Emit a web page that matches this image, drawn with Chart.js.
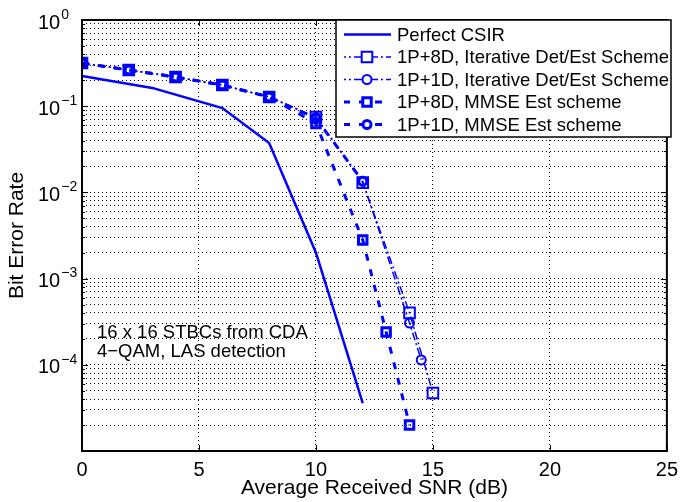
<!DOCTYPE html>
<html>
<head>
<meta charset="utf-8">
<script src="https://cdn.jsdelivr.net/npm/chart.js@4.4.1/dist/chart.umd.min.js"></script>
<style>
  html, body { margin: 0; padding: 0; background: #fff; }
</style>
</head>
<body>
<canvas id="ber-chart" width="685" height="502"></canvas>
<script>
const FONT = "'Liberation Sans', Helvetica, Arial, sans-serif";
const BLUE = '#0000ff';

// series names (legend order)
const seriesLabels = [
  'Perfect CSIR',
  '1P+8D, Iterative Det/Est Scheme',
  '1P+1D, Iterative Det/Est Scheme',
  '1P+8D, MMSE Est scheme',
  '1P+1D, MMSE Est scheme'
];

// SNR (dB) / BER values
const csirSnr = [0, 3, 6, 8, 10, 12];
const csirBer = [0.224, 0.163, 0.095, 0.0374, 0.0020, 3.6e-5];

const it8Snr = [0, 2, 4, 6, 8, 10, 12, 14, 15];
const it8Ber = [0.317, 0.263, 0.218, 0.176, 0.128, 0.075, 0.013, 4.0e-4, 4.7e-5];

const it1Snr = [0, 2, 4, 6, 8, 10, 12, 14, 14.5];
const it1Ber = [0.317, 0.263, 0.218, 0.176, 0.128, 0.074, 0.0135, 3.05e-4, 1.14e-4];

const mm8Snr = [0, 2, 4, 6, 8, 10, 12, 13, 14];
const mm8Ber = [0.317, 0.263, 0.218, 0.176, 0.128, 0.063, 0.0028, 2.4e-4, 2.0e-5];

const mm1Snr = [0, 2, 4, 6, 8, 10, 12];
const mm1Ber = [0.317, 0.263, 0.218, 0.176, 0.128, 0.072, 0.0135];

// axes
const xTicks = [0, 5, 10, 15, 20, 25];
const yExponents = [0, -1, -2, -3, -4];   // labelled decades
const yGridDecades = [-5, -4, -3, -2, -1];
const yMantissas = [1, 2, 3, 4, 5, 6, 7, 8, 9];

const noteLines = ['16 x 16 STBCs from CDA', '4\u2212QAM, LAS detection'];

function pts(xs, ys) {
  return xs.map((x, i) => ({ x: x, y: ys[i] }));
}

const yGrid = [];
yGridDecades.forEach(e => yMantissas.forEach(m => yGrid.push(m * Math.pow(10, e))));
yGrid.push(1);

// MATLAB-ish frame, inner ticks, y labels, legend and note
const figureExtras = {
  id: 'figureExtras',
  afterDraw(chart) {
    const ctx = chart.ctx;
    const a = chart.chartArea;
    const xs = chart.scales.x, ys = chart.scales.y;
    ctx.save();
    ctx.strokeStyle = '#000';
    ctx.lineWidth = 1;
    ctx.setLineDash([]);

    // inner tick marks
    ctx.beginPath();
    xTicks.forEach(v => {
      const px = Math.round(xs.getPixelForValue(v)) + 0.5;
      ctx.moveTo(px, a.bottom); ctx.lineTo(px, a.bottom - 6);
      ctx.moveTo(px, a.top); ctx.lineTo(px, a.top + 6);
    });
    yGrid.forEach(v => {
      const py = Math.round(ys.getPixelForValue(v)) + 0.5;
      const len = Math.abs(Math.log10(v) - Math.round(Math.log10(v))) < 1e-9 ? 6 : 3;
      ctx.moveTo(a.left, py); ctx.lineTo(a.left + len, py);
      ctx.moveTo(a.right, py); ctx.lineTo(a.right - len, py);
    });
    ctx.stroke();

    // box
    ctx.lineWidth = 2;
    ctx.strokeRect(a.left, a.top, a.right - a.left, a.bottom - a.top);

    // y tick labels 10^k
    ctx.fillStyle = '#000';
    ctx.textAlign = 'left';
    ctx.textBaseline = 'middle';
    yExponents.forEach(e => {
      const py = ys.getPixelForValue(Math.pow(10, e));
      ctx.font = '20px ' + FONT;
      ctx.fillText('10', 38, py + 3);
      const w = ctx.measureText('10').width;
      ctx.font = '14px ' + FONT;
      ctx.fillText(e === 0 ? '0' : '\u2212' + (-e), 38 + w + 1, py - 5);
    });

    // note text
    ctx.font = '18.5px ' + FONT;
    ctx.textBaseline = 'alphabetic';
    ctx.fillText(noteLines[0], 97, 338);
    ctx.fillText(noteLines[1], 97, 357);

    // legend
    const lx0 = 336, lx1 = 671, ly0 = 20, ly1 = 137;
    ctx.fillStyle = '#fff';
    ctx.fillRect(lx0, ly0, lx1 - lx0, ly1 - ly0);
    ctx.strokeStyle = '#000';
    ctx.lineWidth = 1.5;
    ctx.strokeRect(lx0, ly0, lx1 - lx0, ly1 - ly0);
    chart.data.datasets.forEach((ds, i) => {
      const cy = 34.5 + i * 22.5;
      ctx.strokeStyle = BLUE;
      ctx.lineWidth = ds.borderWidth;
      ctx.setLineDash(ds.borderDash || []);
      ctx.lineDashOffset = ds.legendDashOffset || 0;
      ctx.beginPath();
      ctx.moveTo(344, cy); ctx.lineTo(391, cy);
      ctx.stroke();
      ctx.setLineDash([]);
      if (ds.pointRadius > 0) {
        ctx.fillStyle = '#fff';
        ctx.lineWidth = ds.pointBorderWidth;
        ctx.beginPath();
        if (ds.pointStyle === 'rect') {
          const h = ds.pointRadius * Math.SQRT1_2;
          ctx.rect(367 - h, cy - h, 2 * h, 2 * h);
        } else {
          ctx.arc(367, cy, ds.pointRadius, 0, Math.PI * 2);
        }
        ctx.fill();
        ctx.stroke();
      }
      ctx.fillStyle = '#000';
      ctx.font = '18.5px ' + FONT;
      ctx.textBaseline = 'middle';
      ctx.fillText(ds.label, 397, cy + 1);
    });
    ctx.restore();
  }
};

const lineDefaults = {
  borderColor: BLUE,
  backgroundColor: BLUE,
  pointBorderColor: BLUE,
  pointBackgroundColor: 'rgba(0,0,0,0)',
  showLine: true,
  fill: false,
  tension: 0
};

const datasets = [
  Object.assign({}, lineDefaults, {
    label: seriesLabels[0], data: pts(csirSnr, csirBer),
    borderWidth: 2.5, pointRadius: 0
  }),
  Object.assign({}, lineDefaults, {
    label: seriesLabels[1], data: pts(it8Snr, it8Ber),
    borderWidth: 1.5, borderDash: [8, 3, 2, 3], legendDashOffset: 6,
    pointStyle: 'rect', pointRadius: 7.5, pointBorderWidth: 2
  }),
  Object.assign({}, lineDefaults, {
    label: seriesLabels[2], data: pts(it1Snr, it1Ber),
    borderWidth: 1.5, borderDash: [8, 3, 2, 3], legendDashOffset: 6,
    pointStyle: 'circle', pointRadius: 4.5, pointBorderWidth: 2
  }),
  Object.assign({}, lineDefaults, {
    label: seriesLabels[3], data: pts(mm8Snr, mm8Ber),
    borderWidth: 3, borderDash: [7, 9], legendDashOffset: 1,
    pointStyle: 'rect', pointRadius: 6, pointBorderWidth: 3
  }),
  Object.assign({}, lineDefaults, {
    label: seriesLabels[4], data: pts(mm1Snr, mm1Ber),
    borderWidth: 3, borderDash: [7, 9], legendDashOffset: 1,
    pointStyle: 'circle', pointRadius: 4, pointBorderWidth: 3
  })
];

const tickFont = { family: FONT, size: 20 };
const titleFont = { family: FONT, size: 21 };

new Chart(document.getElementById('ber-chart'), {
  type: 'scatter',
  data: { datasets: datasets },
  options: {
    responsive: false,
    animation: false,
    layout: { padding: { left: 0, right: 15, top: 20, bottom: 0 } },
    plugins: { legend: { display: false }, tooltip: { enabled: false } },
    scales: {
      x: {
        type: 'linear', min: 0, max: 25,
        afterBuildTicks: s => { s.ticks = xTicks.map(v => ({ value: v })); },
        afterFit: s => { s.height = 51; },
        grid: { color: '#000', lineWidth: 1, drawTicks: false },
        border: { display: false, dash: [1, 3] },
        ticks: { color: '#000', font: tickFont, padding: 7, maxRotation: 0 },
        title: { display: true, text: 'Average Received SNR (dB)', color: '#000', font: titleFont, padding: 1 }
      },
      y: {
        type: 'logarithmic', min: 1e-5, max: 1,
        afterBuildTicks: s => { s.ticks = yGrid.map(v => ({ value: v })); },
        afterFit: s => { s.width = 82; },
        grid: { color: '#000', lineWidth: 1, drawTicks: false },
        border: { display: false, dash: [1, 3] },
        ticks: { display: false },
        title: { display: true, text: 'Bit Error Rate', color: '#000', font: titleFont, padding: 5 }
      }
    }
  },
  plugins: [figureExtras]
});
</script>
</body>
</html>
